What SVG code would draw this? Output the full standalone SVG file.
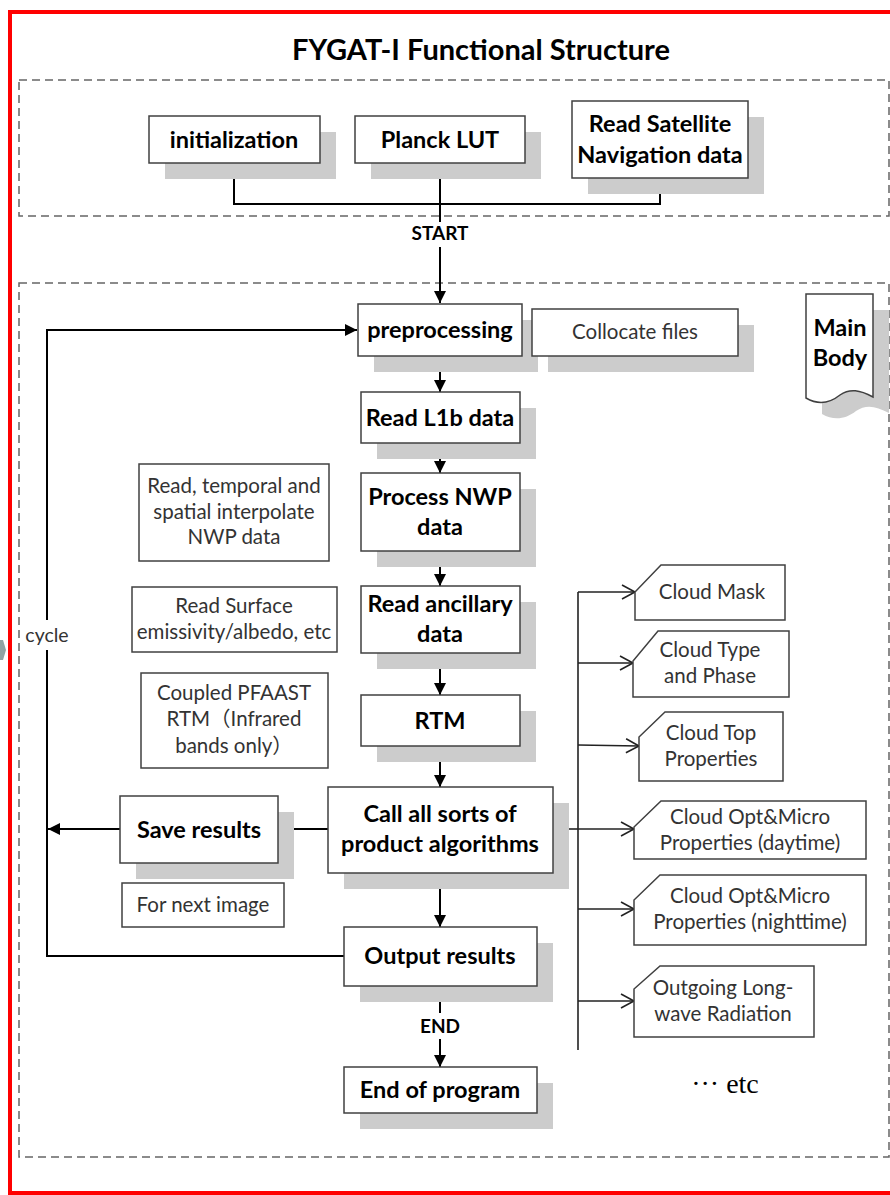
<svg xmlns="http://www.w3.org/2000/svg" width="890" height="1195" viewBox="0 0 890 1195">
<defs>
<style>
.box{fill:#fff;stroke:#404040;stroke-width:1.5}
.note{fill:#fff;stroke:#404040;stroke-width:1.5}
.shadow{fill:#cccccc}
.dash{fill:none;stroke:#666;stroke-width:1.5;stroke-dasharray:8,5}
.b{font-family:Lato,"Liberation Sans",sans-serif;font-weight:bold;font-size:23.5px;fill:#000;text-anchor:middle}
.n{font-family:Lato,"Noto Sans CJK SC","Liberation Sans",sans-serif;font-size:20.5px;fill:#333;text-anchor:middle}
.lbl{font-family:Lato,"Liberation Sans",sans-serif;font-weight:bold;font-size:19px;fill:#000;text-anchor:middle}
.c{fill:none;stroke:#000;stroke-width:2}
.br{fill:none;stroke:#222;stroke-width:1.6}
</style>
<marker id="ah" markerUnits="userSpaceOnUse" markerWidth="12" markerHeight="12" refX="12" refY="6" orient="auto">
<path d="M0,0 L12,6 L0,12 z" fill="#000"/>
</marker>
<marker id="oh" markerUnits="userSpaceOnUse" markerWidth="16" markerHeight="16" refX="14" refY="8" orient="auto">
<path d="M1,1 L14,8 L1,15" fill="none" stroke="#222" stroke-width="1.6"/>
</marker>
</defs>
<rect width="890" height="1195" fill="#fff"/>
<rect x="10" y="12" width="900" height="1181" fill="none" stroke="#f00" stroke-width="4"/>
<polygon points="0,640 3,640 6,650 3,660 0,660" fill="#8fa3a3"/>
<text x="481" y="60" font-family="Lato,'Liberation Sans',sans-serif" font-weight="bold" font-size="29" text-anchor="middle" fill="#000">FYGAT-I Functional Structure</text>
<rect class="dash" x="19" y="80" width="870" height="136"/>
<rect class="dash" x="19" y="283" width="870" height="874"/>

<g id="connectors">
<polyline class="c" points="234,163 234,204 660,204 660,178"/>
<line class="c" x1="440" y1="163" x2="440" y2="222"/>
<text class="lbl" x="440" y="240">START</text>
<line class="c" x1="440" y1="247" x2="440" y2="303" marker-end="url(#ah)"/>
<polyline class="c" points="47,620 47,330 357,330" marker-end="url(#ah)"/>
<polyline class="c" points="47,650 47,956 344,956"/>
<text x="47" y="642" font-family="Lato,'Liberation Sans',sans-serif" font-size="19.5" fill="#333" text-anchor="middle">cycle</text>
<line class="c" x1="120" y1="829" x2="48" y2="829" marker-end="url(#ah)"/>
<line class="c" x1="328" y1="829" x2="279" y2="829" marker-end="url(#ah)"/>
<line class="c" x1="440" y1="356" x2="440" y2="392" marker-end="url(#ah)"/>
<line class="c" x1="440" y1="443" x2="440" y2="473" marker-end="url(#ah)"/>
<line class="c" x1="440" y1="551" x2="440" y2="586" marker-end="url(#ah)"/>
<line class="c" x1="440" y1="653" x2="440" y2="695" marker-end="url(#ah)"/>
<line class="c" x1="440" y1="746" x2="440" y2="787" marker-end="url(#ah)"/>
<line class="c" x1="440" y1="873" x2="440" y2="927" marker-end="url(#ah)"/>
<line class="c" x1="440" y1="986" x2="440" y2="1013"/>
<text class="lbl" x="440" y="1033">END</text>
<line class="c" x1="440" y1="1039" x2="440" y2="1067" marker-end="url(#ah)"/>
<line class="br" x1="578" y1="592" x2="578" y2="1050"/>
<line class="br" x1="553" y1="829" x2="578" y2="829"/>
<line class="br" x1="578" y1="592" x2="635" y2="592" marker-end="url(#oh)"/>
<line class="br" x1="578" y1="663" x2="633" y2="663" marker-end="url(#oh)"/>
<line class="br" x1="578" y1="745" x2="639" y2="746" marker-end="url(#oh)"/>
<line class="br" x1="578" y1="829" x2="634" y2="829" marker-end="url(#oh)"/>
<line class="br" x1="578" y1="909" x2="634" y2="909" marker-end="url(#oh)"/>
<line class="br" x1="578" y1="1001" x2="634" y2="1001" marker-end="url(#oh)"/>
</g>

<g id="initialization"><rect class="shadow" x="165" y="132" width="171" height="47"/><rect class="box" x="149" y="116" width="171" height="47"/><text class="b" x="234" y="148">initialization</text></g>
<g id="planck"><rect class="shadow" x="371" y="132" width="170" height="47"/><rect class="box" x="355" y="116" width="170" height="47"/><text class="b" x="440" y="148">Planck LUT</text></g>
<g id="readsat"><rect class="shadow" x="588" y="117" width="176" height="77"/><rect class="box" x="572" y="101" width="176" height="77"/><text class="b" x="660" y="132">Read Satellite</text><text class="b" x="660" y="163">Navigation data</text></g>

<g id="mainbody"><path class="shadow" d="M822,310 L889,310 L889,413 C876,406 866,404 856,411 C846,419 834,421 822,414 Z"/><path class="box" d="M806,294 L873,294 L873,397 C860,390 850,388 840,395 C830,403 818,405 806,398 Z"/><text class="b" x="840" y="336">Main</text><text class="b" x="840" y="366">Body</text></g>

<g id="preprocessing"><rect class="shadow" x="374" y="320" width="164" height="52"/><rect class="box" x="358" y="304" width="164" height="52"/><text class="b" x="440" y="338">preprocessing</text></g>
<g id="collocate"><rect class="shadow" x="548" y="325" width="206" height="47"/><rect class="box" x="532" y="309" width="206" height="47"/><text class="n" x="635" y="339">Collocate files</text></g>
<g id="readl1b"><rect class="shadow" x="377" y="408" width="159" height="51"/><rect class="box" x="361" y="392" width="159" height="51"/><text class="b" x="440" y="426">Read L1b data</text></g>
<g id="processnwp"><rect class="shadow" x="377" y="489" width="159" height="78"/><rect class="box" x="361" y="473" width="159" height="78"/><text class="b" x="440" y="505">Process NWP</text><text class="b" x="440" y="535">data</text></g>
<g id="readanc"><rect class="shadow" x="377" y="602" width="159" height="67"/><rect class="box" x="361" y="586" width="159" height="67"/><text class="b" x="440" y="612">Read ancillary</text><text class="b" x="440" y="642">data</text></g>
<g id="rtm"><rect class="shadow" x="377" y="711" width="159" height="51"/><rect class="box" x="361" y="695" width="159" height="51"/><text class="b" x="440" y="729">RTM</text></g>
<g id="callall"><rect class="shadow" x="344" y="803" width="225" height="86"/><rect class="box" x="328" y="787" width="225" height="86"/><text class="b" x="440" y="822">Call all sorts of</text><text class="b" x="440" y="852">product algorithms</text></g>
<g id="save"><rect class="shadow" x="136" y="812" width="158" height="67"/><rect class="box" x="120" y="796" width="158" height="67"/><text class="b" x="199" y="838">Save results</text></g>
<g id="output"><rect class="shadow" x="360" y="943" width="193" height="59"/><rect class="box" x="344" y="927" width="193" height="59"/><text class="b" x="440" y="964">Output results</text></g>
<g id="end"><rect class="shadow" x="360" y="1083" width="193" height="46"/><rect class="box" x="344" y="1067" width="193" height="46"/><text class="b" x="440" y="1098">End of program</text></g>

<g id="note-nwp"><rect class="note" x="139" y="464" width="190" height="97"/><text class="n" x="234" y="493">Read, temporal and</text><text class="n" x="234" y="519">spatial interpolate</text><text class="n" x="234" y="544">NWP data</text></g>
<g id="note-surface"><rect class="note" x="132" y="587" width="205" height="65"/><text class="n" x="234" y="613">Read Surface</text><text class="n" x="234" y="639">emissivity/albedo, etc</text></g>
<g id="note-rtm"><rect class="note" x="141" y="673" width="187" height="95"/><text class="n" x="234" y="700">Coupled PFAAST</text><text class="n" x="234" y="726">RTM（Infrared</text><text class="n" x="234" y="753">bands only）</text></g>
<g id="note-next"><rect class="note" x="122" y="883" width="162" height="44"/><text class="n" x="203" y="912">For next image</text></g>

<g id="cloudmask"><path class="box" d="M661,565 L785,565 L785,620 L635,620 L635,592 Z"/><text class="n" x="712" y="599">Cloud Mask</text></g>
<g id="cloudtype"><path class="box" d="M658,631 L789,631 L789,697 L633,697 L633,661 Z"/><text class="n" x="710" y="657">Cloud Type</text><text class="n" x="710" y="683">and Phase</text></g>
<g id="cloudtop"><path class="box" d="M665,712 L783,712 L783,781 L639,781 L639,737 Z"/><text class="n" x="711" y="740">Cloud Top</text><text class="n" x="711" y="766">Properties</text></g>
<g id="cloudday"><path class="box" d="M661,801 L866,801 L866,859 L634,859 L634,827 Z"/><text class="n" x="750" y="824">Cloud Opt&amp;Micro</text><text class="n" x="750" y="850">Properties (daytime)</text></g>
<g id="cloudnight"><path class="box" d="M660,875 L866,875 L866,945 L634,945 L634,900 Z"/><text class="n" x="750" y="903">Cloud Opt&amp;Micro</text><text class="n" x="750" y="929">Properties (nighttime)</text></g>
<g id="olr"><path class="box" d="M660,966 L814,966 L814,1037 L634,1037 L634,989 Z"/><text class="n" x="723" y="995">Outgoing Long-</text><text class="n" x="723" y="1021">wave Radiation</text></g>
<text x="725" y="1093" font-family="'Liberation Serif',serif" font-size="28" fill="#000" text-anchor="middle">··· etc</text>
</svg>
